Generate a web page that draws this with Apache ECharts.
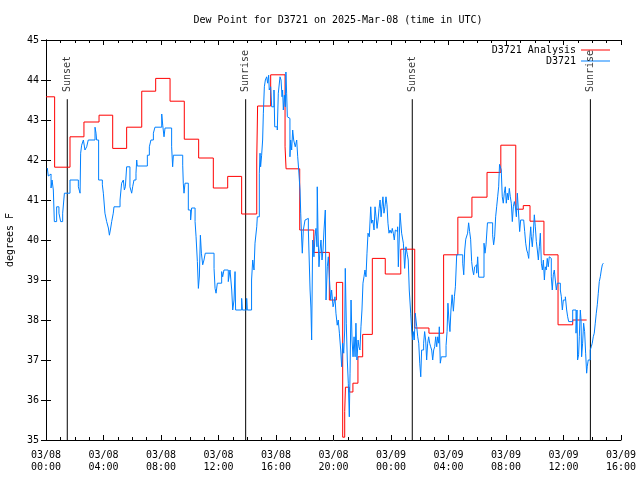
<!DOCTYPE html>
<html>
<head>
<meta charset="utf-8">
<script src="https://cdn.jsdelivr.net/npm/echarts@6/dist/echarts.min.js"></script>
<style>html,body{margin:0;padding:0;background:#fff}#c{width:640px;height:480px}</style>
</head>
<body>
<div id="c"></div>
<script>
// Hours since 03/08 00:00 UTC
const xTickLabels = ['03/08\n00:00','03/08\n04:00','03/08\n08:00','03/08\n12:00','03/08\n16:00','03/08\n20:00','03/09\n00:00','03/09\n04:00','03/09\n08:00','03/09\n12:00','03/09\n16:00'];
const yTickLabels = ['35','36','37','38','39','40','41','42','43','44','45'];

// D3721 Analysis (step starts, hours) and values (deg F)
const anaHours = [0,0.6,1.67,2.64,3.69,4.64,5.61,6.66,7.63,8.63,9.62,10.62,11.64,12.64,13.61,14.66,14.72,15.63,16.63,16.7,17.65,18.63,19.71,20.2,20.64,20.78,20.83,21.1,21.35,21.7,22.03,22.7,23.6,24.68,25.65,26.64,27.66,28.65,29.63,30.68,31.64,32.68,33.2,33.67,34.64,35.62,36.64,37.61];
const anaValues = [43.58,41.82,42.58,42.95,43.12,42.29,42.82,43.72,44.04,43.47,42.52,42.05,41.3,41.59,40.65,42.0,43.35,44.13,42.33,41.78,40.25,39.69,38.5,38.94,35.07,35.71,36.32,36.2,36.42,37.08,37.64,39.54,39.15,39.77,37.8,37.67,39.63,40.57,41.07,41.69,42.37,40.77,40.86,40.47,39.63,37.88,38.0,38.0];

// D3721 observations
const obsHours = [0.09,0.16,0.28,0.35,0.42,0.51,0.58,0.74,0.9,1.02,1.16,1.28,1.67,2.25,2.37,2.41,2.48,2.6,2.71,2.83,2.94,3.41,3.48,3.52,3.66,3.92,3.99,4.1,4.22,4.34,4.41,4.5,4.57,4.68,4.73,5.15,5.26,5.38,5.45,5.52,5.61,5.84,5.96,6.03,6.12,6.26,6.31,6.35,7.05,7.19,7.3,7.47,7.58,8.05,8.12,8.21,8.28,8.74,8.81,8.86,9.51,9.55,9.6,9.67,9.9,10.06,10.13,10.37,10.44,10.53,10.6,10.67,10.74,10.81,10.9,10.99,11.08,11.69,11.76,11.83,11.92,12.22,12.29,12.38,12.68,12.8,12.92,12.99,13.08,13.15,13.19,13.61,13.66,13.96,14.0,14.3,14.38,14.47,14.54,14.66,
14.7,14.84,14.89,14.93,15.0,15.07,15.12,15.19,15.26,15.35,15.42,15.49,15.53,15.63,15.7,15.86,15.91,16.09,16.16,16.28,16.35,16.42,16.46,16.51,16.58,16.65,16.69,16.74,16.79,16.88,16.97,17.02,17.09,17.16,17.23,17.34,17.44,17.51,17.58,17.67,17.72,17.79,17.83,17.9,18.02,18.13,18.25,18.37,18.43,18.48,18.55,18.64,18.71,18.78,18.85,18.87,18.92,18.99,19.06,19.13,19.2,19.27,19.34,19.43,19.48,19.57,19.64,19.71,19.8,19.87,19.97,20.03,20.1,20.17,20.26,20.33,20.41,20.5,20.57,20.64,20.71,20.78,20.82,20.89,20.96,21.03,21.1,21.15,21.22,21.29,21.36,21.43,21.5,21.56,21.63,21.71,21.77,21.84,21.91,21.98,22.05,22.12,22.19,22.26,22.33,22.4,22.49,22.59,22.65,22.73,22.82,22.89,22.96,23.03,23.1,23.17,23.24,23.31,23.37,23.44,23.51,23.58,23.65,23.72,23.79,23.86,23.93,24.02,24.09,24.16,24.23,24.3,24.39,24.46,24.51,
24.63,24.74,24.86,24.95,25.04,25.14,25.2,25.27,25.37,25.44,25.51,25.55,25.62,25.69,25.79,25.86,25.93,26.0,26.07,26.13,26.27,26.34,26.41,26.48,26.55,26.62,26.69,26.76,26.83,26.9,26.97,27.04,27.11,27.18,27.25,27.32,27.36,27.43,27.5,27.83,27.9,27.96,28.03,28.1,28.17,28.25,28.34,28.41,28.48,28.57,28.99,29.06,29.13,29.2,29.33,29.4,29.47,29.54,29.61,29.68,29.75,29.82,29.89,29.96,30.03,30.1,30.47,30.54,30.61,30.71,31.07,31.14,31.21,31.28,31.35,31.42,31.49,31.55,31.67,31.74,31.81,31.88,31.95,32.02,32.09,32.16,32.23,32.3,32.37,32.44,32.51,32.58,32.65,32.72,32.79,32.86,32.95,33.02,33.23,33.3,33.37,33.44,33.51,33.58,33.65,33.72,33.76,33.83,33.9,33.97,34.04,34.11,34.18,34.25,34.32,34.39,34.46,34.53,34.6,34.67,34.73,34.8,34.87,34.94,35.01,35.08,35.15,35.22,35.29,35.36,35.43,35.5,35.57,35.78,35.85,35.92,35.99,36.13,36.22,36.29,36.36,36.64,36.87,36.94,36.98,37.05,37.1,37.17,37.22,37.26,37.33,37.4,37.47,37.54,37.61,37.65,37.72,37.86,37.93,38.0,38.07,38.14,38.21,38.28,38.35,38.42,38.49,38.56,38.63,38.7,38.77];
const obsValues = [41.8,41.6,41.65,41.3,41.5,41.25,40.46,40.83,40.67,40.46,40.67,41.17,41.5,41.33,41.17,42.17,42.37,42.5,42.25,42.33,42.5,42.82,42.67,42.5,41.5,41.38,41.17,40.67,40.46,40.3,40.12,40.3,40.46,40.67,40.83,41.0,41.42,41.5,41.25,41.33,41.83,41.33,41.17,41.33,41.5,41.67,42.0,41.85,42.12,42.33,42.5,42.67,42.82,43.15,42.87,42.58,42.8,42.33,41.83,42.12,41.87,41.42,41.17,41.42,40.75,40.5,40.8,40.46,40.08,39.46,38.79,39.1,40.12,39.67,39.38,39.5,39.67,39.29,38.79,38.67,38.92,39.21,39.08,39.25,38.96,39.25,38.75,38.25,38.5,39.21,38.25,38.54,38.25,38.54,38.25,39.0,39.5,39.25,39.92,40.33,
40.58,41.67,42.17,41.83,42.12,42.5,43.17,43.83,44.0,44.08,43.92,44.12,43.75,43.83,43.33,43.75,42.83,42.75,43.67,44.08,44.0,43.58,43.75,43.25,43.62,43.33,44.2,43.67,43.08,43.04,42.08,42.5,42.25,42.75,42.5,42.33,42.5,42.08,41.75,41.25,40.67,40.0,39.67,40.25,40.5,40.54,40.25,38.75,38.3,37.5,40.0,39.58,40.08,40.29,39.83,41.33,40.25,39.33,39.75,40.0,39.5,39.75,40.25,40.75,38.5,39.33,39.58,39.08,38.5,38.75,38.33,38.42,38.58,38.17,37.87,38.0,37.67,37.25,36.83,37.42,37.17,37.75,39.29,37.92,37.0,36.42,35.58,36.67,38.5,37.5,37.08,37.58,37.08,37.92,37.0,37.5,37.33,37.25,37.83,38.25,38.92,39.08,39.25,39.08,39.67,40.17,40.08,40.83,40.42,40.5,40.25,40.83,40.58,40.29,40.5,40.79,41.0,40.58,40.83,41.08,40.67,40.83,41.08,40.88,40.42,40.17,40.25,40.17,40.29,40.17,40.0,40.25,40.21,40.33,39.33,
40.67,40.17,39.92,39.29,39.83,39.63,39.5,38.75,38.17,37.75,37.5,37.71,37.5,38.17,37.83,37.58,37.42,36.92,36.58,37.25,37.42,37.71,37.5,37.0,37.42,37.58,37.42,37.33,37.25,37.0,37.25,37.33,37.58,37.33,37.58,37.42,37.83,36.92,37.08,37.36,37.71,38.42,38.0,37.71,38.25,38.63,38.22,38.58,38.83,39.63,39.42,39.13,39.75,40.02,40.17,40.43,40.21,40.02,39.46,39.25,39.13,39.33,39.38,39.17,39.58,39.07,39.92,39.67,39.88,40.43,40.13,39.88,40.08,40.58,40.83,41.08,41.33,41.89,41.75,41.08,40.92,41.17,41.33,40.92,41.17,41.0,41.29,41.08,40.92,40.46,40.83,40.96,40.83,40.58,41.17,40.75,40.21,40.5,40.5,40.21,39.92,39.75,39.67,39.54,40.0,40.33,40.08,39.83,40.17,40.63,40.33,39.96,39.75,39.5,39.83,40.17,39.42,39.25,39.5,39.0,39.33,39.25,39.54,39.33,39.58,39.54,39.08,38.75,39.13,39.25,39.0,38.75,38.92,38.75,38.58,38.25,38.5,38.58,38.25,38.08,37.96,38.25,37.67,38.25,37.0,37.13,37.58,38.25,38.0,37.08,37.42,37.92,37.71,37.17,36.67,36.83,37.0,37.25,37.33,37.42,37.58,37.67,37.92,38.17,38.38,38.67,38.96,39.08,39.25,39.38,39.42];

// Sunrise / sunset markers
const sunLabels = ['Sunset','Sunrise','Sunset','Sunrise'];
const sunHours = [1.48,13.89,25.48,37.87];
const sunLineTop = 43.52;
const sunLabelBase = 43.7;

const FONT = 'DejaVu Sans Mono';
const chart = echarts.init(document.getElementById('c'), null, {renderer:'canvas'});

const zip = (xs, ys) => xs.map((x, i) => [x, ys[i]]);

const series = [];
sunHours.forEach((h, i) => {
  series.push({
    type: 'line', name: 'sun' + i, silent: true, symbol: 'none', z: 1,
    lineStyle: {color: '#000', width: 1},
    data: [[h, 35], [h, sunLineTop]],
    animation: false
  });
});
series.push({
  type: 'scatter', name: 'sunlabels', silent: true, symbolSize: 0, z: 5,
  data: sunHours.map((h, i) => ({value: [h, sunLabelBase], name: sunLabels[i]})),
  label: {
    show: true, position: 'inside', rotate: 90, align: 'left', verticalAlign: 'middle',
    formatter: p => p.name, color: '#000', fontFamily: FONT, fontSize: 10
  },
  animation: false
});
series.push({
  type: 'line', name: 'D3721 Analysis', step: 'end', symbol: 'none', z: 2,
  lineStyle: {color: '#ff0000', width: 1}, itemStyle: {color: '#ff0000'},
  data: zip(anaHours, anaValues), animation: false
});
series.push({
  type: 'line', name: 'D3721', step: 'end', symbol: 'none', z: 3,
  lineStyle: {color: '#0080ff', width: 1}, itemStyle: {color: '#0080ff'},
  data: zip(obsHours, obsValues), animation: false
});

const baseX = {
  type: 'value', min: 0, max: 40, interval: 4,
  axisLine: {show: true, lineStyle: {color: '#000', width: 1}},
  axisTick: {show: true, inside: true, length: 5, lineStyle: {color: '#000'}},
  minorTick: {show: true, splitNumber: 4, length: 3, lineStyle: {color: '#000'}},
  splitLine: {show: false}
};
const baseY = {
  type: 'value', min: 35, max: 45, interval: 1,
  axisLine: {show: true, lineStyle: {color: '#000', width: 1}},
  axisTick: {show: true, inside: true, length: 5, lineStyle: {color: '#000'}},
  splitLine: {show: false}
};

chart.setOption({
  animation: false,
  backgroundColor: '#fff',
  title: {
    text: 'Dew Point for D3721 on 2025-Mar-08 (time in UTC)',
    left: 333, top: 10, textAlign: 'center',
    textStyle: {fontFamily: FONT, fontSize: 10, fontWeight: 'normal', color: '#000'}
  },
  grid: {left: 46, right: 19, top: 40, bottom: 40, containLabel: false, outerBoundsMode: 'none'},
  legend: {
    data: ['D3721 Analysis', 'D3721'], orient: 'vertical', right: 25, top: 40,
    align: 'right', icon: 'rect', itemWidth: 29, itemHeight: 1, itemGap: 1,
    textStyle: {fontFamily: FONT, fontSize: 10, color: '#000'},
    selectedMode: false
  },
  xAxis: [
    Object.assign({}, baseX, {
      position: 'bottom',
      axisLabel: {
        margin: 9, lineHeight: 12, fontFamily: FONT, fontSize: 10, color: '#000',
        formatter: v => xTickLabels[Math.round(v / 4)] || ''
      }
    }),
    Object.assign({}, baseX, {position: 'top', axisLabel: {show: false}})
  ],
  yAxis: [
    Object.assign({}, baseY, {
      position: 'left',
      name: 'degrees F', nameLocation: 'middle', nameGap: 31, nameRotate: 90,
      nameTextStyle: {fontFamily: FONT, fontSize: 10, color: '#000'},
      axisLabel: {
        margin: 7, fontFamily: FONT, fontSize: 10, color: '#000',
        formatter: v => yTickLabels[Math.round(v - 35)] || ''
      }
    }),
    Object.assign({}, baseY, {position: 'right', axisLabel: {show: false}})
  ],
  series: series
});
</script>
</body>
</html>
